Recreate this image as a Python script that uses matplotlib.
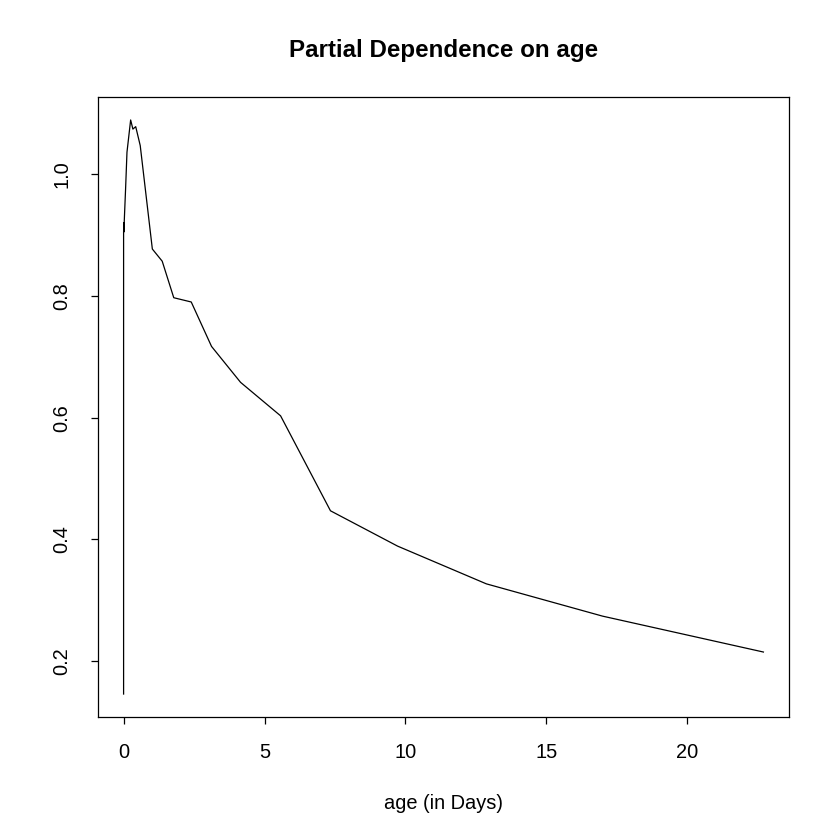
import matplotlib
matplotlib.use("Agg")
import matplotlib.pyplot as plt

plt.rcParams['font.family'] = ['Liberation Sans', 'DejaVu Sans']

age = [0.0, 0.0, 0.005, 0.01, 0.03, 0.07, 0.12, 0.25, 0.33, 0.43, 0.59, 1.02, 1.37,
       1.78, 2.4, 3.12, 4.15, 5.57, 7.34, 9.72, 12.87, 16.99, 22.7]
pd_val = [0.146, 0.905, 0.92, 0.905, 0.93, 0.975, 1.036, 1.089, 1.074, 1.078, 1.047,
          0.877, 0.857, 0.797, 0.790, 0.717, 0.658, 0.603, 0.447, 0.389, 0.327, 0.274, 0.215]
xticks = [0, 5, 10, 15, 20]
yticks = [0.2, 0.4, 0.6, 0.8, 1.0]

fig = plt.figure(figsize=(8.4, 8.4), dpi=100)
ax = fig.add_axes([98/840, 1-717/840, (789-98)/840, (717-97)/840])
ax.plot(age, pd_val, color='black', lw=0.9)

xmin, xmax = min(age), max(age)
ymin, ymax = min(pd_val), max(pd_val)
xp = 0.04*(xmax-xmin); yp = 0.04*(ymax-ymin)
ax.set_xlim(xmin-xp, xmax+xp)
ax.set_ylim(ymin-yp, ymax+yp)
ax.set_xticks(xticks)
ax.set_xticklabels([str(t) for t in xticks])
ax.set_yticks(yticks)
ax.set_yticklabels([f"{t:.1f}" for t in yticks], rotation=90, va='center')
ax.tick_params(direction='out', length=5, width=0.9, labelsize=14.4, pad=14)
for s in ax.spines.values():
    s.set_linewidth(0.9)
ax.set_xlabel("age (in Days)", fontsize=14.4, labelpad=22.5)
fig.text((98+789)/2/840, 1-50/840, "Partial Dependence on age", ha='center', va='center',
         fontsize=17.4, fontweight='bold')
fig.savefig("out.png", dpi=100)
